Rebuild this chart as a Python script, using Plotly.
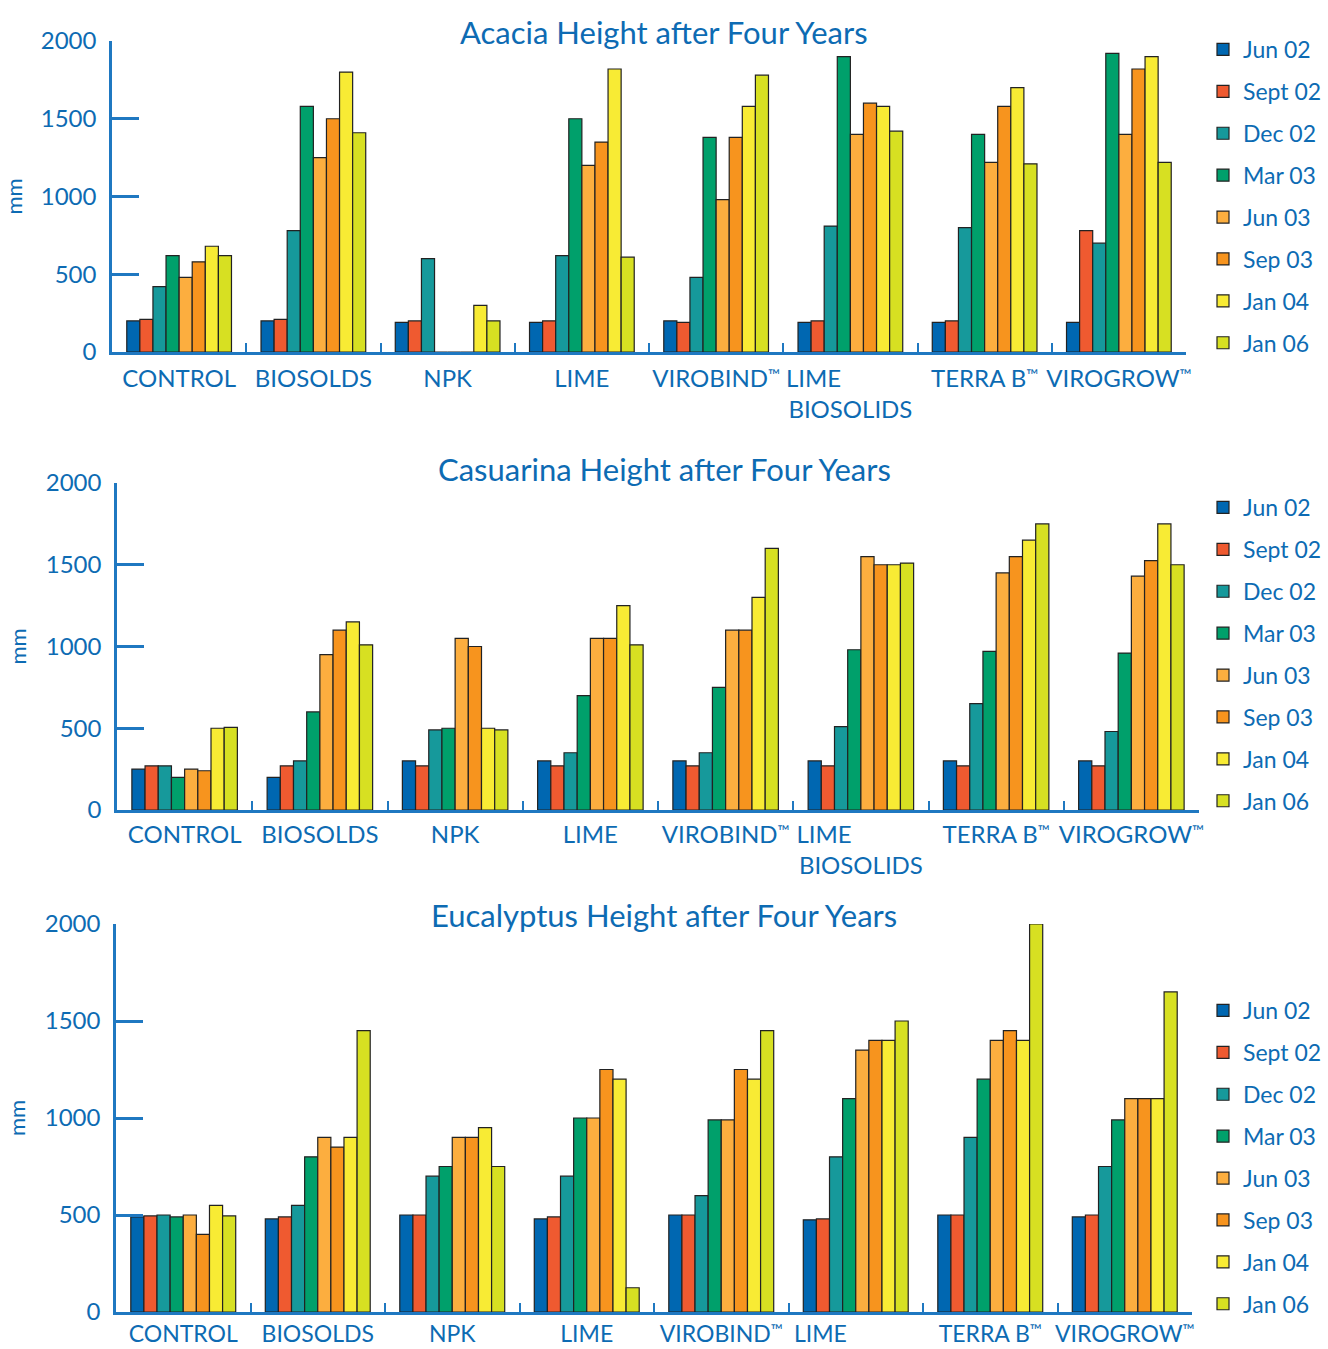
import plotly.graph_objects as go

# ---------------- data ----------------
series = ["Jun 02", "Sept 02", "Dec 02", "Mar 03", "Jun 03", "Sep 03", "Jan 04", "Jan 06"]
colors = ["#0067b1", "#ef5a30", "#16999b", "#00a06b", "#fcae3f", "#f7941e", "#f8eb34", "#d7e022"]

TM = "<span style='font-size:16px;baseline-shift:35%'>™</span>"
cats_ab = ["CONTROL", "BIOSOLDS", "NPK", "LIME", "VIROBIND" + TM,
           "LIME" + "\u00a0" * 12 + "<br>BIOSOLIDS", "TERRA B" + TM, "VIROGROW" + TM]
cats_e = ["CONTROL", "BIOSOLDS", "NPK", "LIME", "VIROBIND" + TM,
          "LIME" + "\u00a0" * 12, "TERRA B" + TM, "VIROGROW" + TM]

# values per series (one value per category)
acacia = {
    "Jun 02":  [200, 200, 190, 190, 200, 190, 190, 190],
    "Sept 02": [210, 210, 200, 200, 190, 200, 200, 780],
    "Dec 02":  [420, 780, 600, 620, 480, 810, 800, 700],
    "Mar 03":  [620, 1580, 0, 1500, 1380, 1900, 1400, 1920],
    "Jun 03":  [480, 1250, 0, 1200, 980, 1400, 1220, 1400],
    "Sep 03":  [580, 1500, 0, 1350, 1380, 1600, 1580, 1820],
    "Jan 04":  [680, 1800, 300, 1820, 1580, 1580, 1700, 1900],
    "Jan 06":  [620, 1410, 200, 610, 1780, 1420, 1210, 1220],
}
casuarina = {
    "Jun 02":  [250, 200, 300, 300, 300, 300, 300, 300],
    "Sept 02": [270, 270, 270, 270, 270, 270, 270, 270],
    "Dec 02":  [270, 300, 490, 350, 350, 510, 650, 480],
    "Mar 03":  [200, 600, 500, 700, 750, 980, 970, 960],
    "Jun 03":  [250, 950, 1050, 1050, 1100, 1550, 1450, 1430],
    "Sep 03":  [240, 1100, 1000, 1050, 1100, 1500, 1550, 1525],
    "Jan 04":  [500, 1150, 500, 1250, 1300, 1500, 1650, 1750],
    "Jan 06":  [505, 1010, 490, 1010, 1600, 1510, 1750, 1500],
}
eucalyptus = {
    "Jun 02":  [490, 480, 500, 480, 500, 475, 500, 490],
    "Sept 02": [495, 490, 500, 490, 500, 480, 500, 500],
    "Dec 02":  [500, 550, 700, 700, 600, 800, 900, 750],
    "Mar 03":  [490, 800, 750, 1000, 990, 1100, 1200, 990],
    "Jun 03":  [500, 900, 900, 1000, 990, 1350, 1400, 1100],
    "Sep 03":  [400, 850, 900, 1250, 1250, 1400, 1450, 1100],
    "Jan 04":  [550, 900, 950, 1200, 1200, 1400, 1400, 1100],
    "Jan 06":  [495, 1450, 750, 125, 1450, 1500, 2000, 1650],
}

titles = ["Acacia Height after Four Years",
          "Casuarina Height after Four Years",
          "Eucalyptus Height after Four Years"]
y_ticks = [0, 500, 1000, 1500, 2000]
y_ticktext = ["0", "500", "1000", "1500", "2000"]

# ---------------- layout geometry (pixels) ----------------
W, H = 1328, 1349
BLUE = "#0d6bb3"
AXIS = "#1f78c1"
FONT = "Lato"

panels = [
    dict(data=acacia, cats=cats_ab, x0=112, x1=1186, ytop=41, ybot=352, title_y=32, leg_y=28, std=3, fs=24),
    dict(data=casuarina, cats=cats_ab, x0=117, x1=1199, ytop=483, ybot=810, title_y=469, leg_y=486, std=1, fs=24),
    dict(data=eucalyptus, cats=cats_e, x0=116, x1=1192, ytop=924, ybot=1312, title_y=915, leg_y=989, std=0, fs=23),
]

fig = go.Figure()
layout = dict(
    width=W, height=H,
    margin=dict(l=0, r=0, t=0, b=0, autoexpand=False),
    paper_bgcolor="white", plot_bgcolor="white",
    barmode="group", bargap=0.22, bargroupgap=0,
    font=dict(family=FONT, color=BLUE),
    showlegend=True,
    annotations=[],
)

for i, p in enumerate(panels):
    n = "" if i == 0 else str(i + 1)
    xa, ya = "x" + n, "y" + n
    leg = "legend" + n
    for s, c in zip(series, colors):
        fig.add_trace(go.Bar(
            x=p["cats"], y=p["data"][s], name=s,
            marker=dict(color=c, line=dict(color="#222222", width=1.2)),
            xaxis=xa, yaxis=ya, legend=leg,
            legendgroup=f"{s}-{i}",
        ))
    layout["xaxis" + n] = dict(
        domain=[p["x0"] / W, p["x1"] / W], anchor=ya, automargin=False,
        type="category", showline=True, linecolor=AXIS, linewidth=2.5,
        ticks="inside", tickson="boundaries", ticklen=9, tickwidth=2, tickcolor=AXIS,
        showgrid=False, zeroline=False, tickangle=0,
        tickfont=dict(size=p["fs"], color=BLUE, family=FONT),
        ticklabelstandoff=p["std"], fixedrange=True,
    )
    layout["yaxis" + n] = dict(
        domain=[1 - p["ybot"] / H, 1 - p["ytop"] / H], anchor=xa, automargin=False,
        range=[0, 2000], showline=True, linecolor=AXIS, linewidth=2.5,
        ticks="inside", ticklen=27, tickwidth=2.5, tickcolor=AXIS,
        tickvals=y_ticks, ticktext=y_ticktext,
        showgrid=False, zeroline=False,
        tickfont=dict(size=24, color=BLUE, family=FONT),
        ticklabelstandoff=8,
        title=dict(text="mm", font=dict(size=22, color=BLUE, family=FONT), standoff=14),
        fixedrange=True,
    )
    layout[leg] = dict(
        x=1203 / W, xanchor="left", y=1 - p["leg_y"] / H, yanchor="top",
        font=dict(size=23, color=BLUE, family=FONT),
        bgcolor="rgba(0,0,0,0)", tracegroupgap=9, traceorder="grouped",
    )
    layout["annotations"].append(dict(
        text=titles[i], x=0.5, xref="paper", xanchor="center",
        y=1 - p["title_y"] / H, yref="paper", yanchor="middle",
        showarrow=False, font=dict(size=31, color=BLUE, family=FONT),
    ))

fig.update_layout(**layout)
fig.write_html(
    "out.html",
    config={"displayModeBar": False},
    post_script="document.body.style.margin='0';document.body.style.overflow='hidden';",
)
